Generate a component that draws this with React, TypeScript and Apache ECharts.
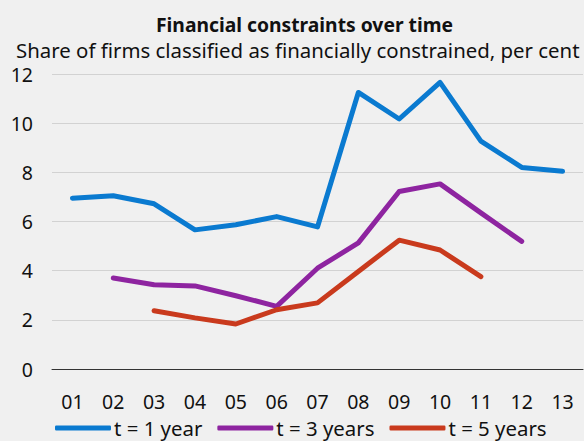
import React, { useEffect, useRef } from "react";
import * as echarts from "echarts";

const categories = ["01", "02", "03", "04", "05", "06", "07", "08", "09", "10", "11", "12", "13"];
const oneYear = [6.95, 7.05, 6.72, 5.66, 5.87, 6.2, 5.78, 11.25, 10.17, 11.66, 9.27, 8.2, 8.04];
const threeYears = [null, 3.7, 3.43, 3.38, 2.98, 2.55, 4.1, 5.13, 7.22, 7.53, 6.35, 5.19, null];
const fiveYears = [null, null, 2.37, 2.08, 1.83, 2.41, 2.69, 3.97, 5.24, 4.84, 3.76, null, null];
const yTicks = { min: 0, max: 12, interval: 2 };

const FONT = "'Noto Sans', 'Open Sans', sans-serif";

export default function App() {
  const ref = useRef<HTMLDivElement>(null);
  useEffect(() => {
    const chart = echarts.init(ref.current!, null, { renderer: "svg" });
    const mk = (name: string, data: (number | null)[], color: string) => ({
      name,
      type: "line",
      data,
      symbol: "none",
      connectNulls: false,
      lineStyle: { width: 5, color, cap: "round", join: "round" },
      itemStyle: { color },
    });
    chart.setOption({
      animation: false,
      backgroundColor: "#f0f0f0",
      textStyle: { fontFamily: FONT },
      title: [
        {
          text: "Financial constraints over time",
          left: 151,
          top: 10,
          textStyle: { fontFamily: FONT, fontSize: 19.3, fontWeight: "bold", color: "#111" },
        },
        {
          text: "Share of firms classified as financially constrained, per cent",
          left: 11,
          top: 35,
          textStyle: { fontFamily: FONT, fontSize: 20.4, fontWeight: "normal", color: "#111" },
        },
      ],
      legend: {
        left: 50,
        bottom: -2,
        icon: "roundRect",
        itemWidth: 56,
        itemHeight: 5,
        itemGap: 15,
        textStyle: { fontFamily: FONT, fontSize: 20.4, color: "#111", padding: [0, 0, 0, -2] },
        data: ["t = 1 year", "t = 3 years", "t = 5 years"],
      },
      grid: { left: 52, right: 1, top: 74, bottom: 72, containLabel: false },
      xAxis: {
        type: "category",
        data: categories,
        boundaryGap: true,
        axisLine: { lineStyle: { color: "#333", width: 1 } },
        axisTick: { inside: true, length: 6, lineStyle: { color: "#333" } },
        axisLabel: { fontFamily: FONT, fontSize: 19.5, color: "#111", margin: 22 },
        splitLine: { show: false },
      },
      yAxis: {
        type: "value",
        min: yTicks.min,
        max: yTicks.max,
        interval: yTicks.interval,
        axisLine: { show: false },
        axisTick: { show: false },
        axisLabel: { fontFamily: FONT, fontSize: 19.5, color: "#111", margin: 19 },
        splitLine: { lineStyle: { color: "#d2d2d2", width: 1 } },
      },
      series: [
        mk("t = 1 year", oneYear, "#0a7ad0"),
        mk("t = 3 years", threeYears, "#8e24a0"),
        mk("t = 5 years", fiveYears, "#c93a1d"),
      ],
    });
    return () => chart.dispose();
  }, []);
  return <div ref={ref} style={{ width: 584, height: 441, position: "fixed", left: 0, top: 0 }} />;
}
